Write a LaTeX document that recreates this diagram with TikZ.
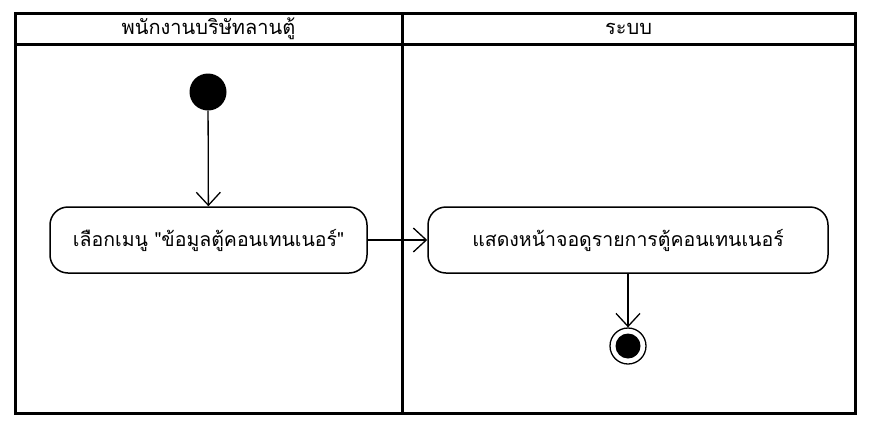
\documentclass[tikz,border=0pt]{standalone}
\usepackage{fontspec}
\newfontfamily\thaifont[Script=Thai]{Loma}
\usetikzlibrary{arrows.meta}
\begin{document}
\begin{tikzpicture}[x=1pt,y=-1pt,
  frame/.style={line width=3pt},
  act/.style={draw,line width=1.5pt,rounded corners=18pt,minimum height=66pt,font=\thaifont\fontsize{19.5}{22}\selectfont,inner sep=0pt},
  flow/.style={line width=1.3pt,-{Straight Barb[length=13pt,width=24pt,line width=1.3pt]}},
  hdr/.style={font=\thaifont\fontsize{20}{22}\selectfont}]
\useasboundingbox (0,0) rectangle (875,434);
\draw[frame] (15,13) rectangle (855,413);
\draw[frame] (15,44) -- (855,44);
\draw[frame] (402,13) -- (402,413);
\node[hdr] (h1) at (208.5,29) {พนักงานบริษัทลานตู้};
\node[hdr] (h2) at (628.5,29) {ระบบ};
\node[circle,fill=black,minimum size=37pt,inner sep=0pt] (start) at (208,92) {};
\node[act,minimum width=317pt] (a1) at (208.5,240) {เลือกเมนู "ข้อมูลตู้คอนเทนเนอร์"};
\node[act,minimum width=400pt] (a2) at (628,240) {แสดงหน้าจอดูรายการตู้คอนเทนเนอร์};
\node[circle,draw,line width=1.3pt,minimum size=36pt,inner sep=0pt] (end) at (628,346) {};
\node[circle,fill=black,minimum size=25pt,inner sep=0pt] (endin) at (end.center) {};
\draw[flow] (start) -- (a1);
\draw[flow] (a1) -- (a2);
\draw[flow] (a2) -- (end);
\end{tikzpicture}
\end{document}
